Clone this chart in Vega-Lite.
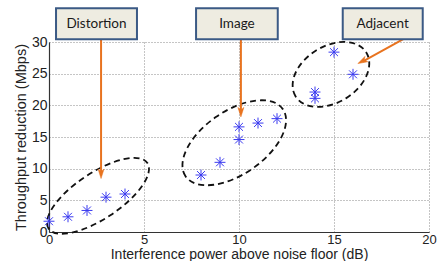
{
  "$schema": "https://vega.github.io/schema/vega-lite/v6.json",
  "autosize": "none",
  "width": 380,
  "height": 190,
  "padding": {"left": 49, "top": 42, "right": 8, "bottom": 29},
  "background": "white",
  "config": {
    "view": {"stroke": null},
    "axis": {
      "labelFont": "Liberation Sans",
      "titleFont": "Liberation Sans",
      "labelFontSize": 14,
      "titleFontSize": 14,
      "titleFontWeight": "normal",
      "labelColor": "#222222",
      "titleColor": "#222222",
      "domainColor": "#333333",
      "domainWidth": 1.2,
      "ticks": false,
      "grid": true,
      "gridColor": "#8a8a8a",
      "gridDash": [1, 2],
      "gridWidth": 1,
      "labelFlush": false
    }
  },
  "datasets": {
    "points": [
      {"x": 0, "y": 1.7},
      {"x": 1, "y": 2.4},
      {"x": 2, "y": 3.4},
      {"x": 3, "y": 5.5},
      {"x": 4, "y": 6.0},
      {"x": 8, "y": 9.0},
      {"x": 9, "y": 11.0},
      {"x": 10, "y": 14.6},
      {"x": 10, "y": 16.6},
      {"x": 11, "y": 17.2},
      {"x": 12, "y": 17.9},
      {"x": 14, "y": 21.1},
      {"x": 14, "y": 22.1},
      {"x": 15, "y": 28.4},
      {"x": 16, "y": 24.9}
    ],
    "ell1": [{"x": 2.58, "y": 5.71}],
    "ell2": [{"x": 9.75, "y": 14.09}],
    "ell3": [{"x": 14.84, "y": 24.88}],
    "boxes": [
      {"label": "Distortion", "x": 0.37, "x2": 4.63, "y": 35.34, "y2": 30.44},
      {"label": "Image", "x": 7.74, "x2": 12.04, "y": 35.34, "y2": 30.44},
      {"label": "Adjacent", "x": 15.46, "x2": 19.67, "y": 35.34, "y2": 30.44}
    ],
    "labels": [
      {"label": "Distortion", "x": 2.5, "y": 32.89},
      {"label": "Image", "x": 9.89, "y": 32.89},
      {"label": "Adjacent", "x": 17.56, "y": 32.89}
    ],
    "arrows": [
      {"x": 2.74, "y": 30.44, "x2": 2.74, "y2": 9.2},
      {"x": 10.1, "y": 30.44, "x2": 10.1, "y2": 18.9},
      {"x": 18.74, "y": 30.6, "x2": 16.5, "y2": 26.9}
    ],
    "tipsDown": [
      {"x": 2.74, "y": 8.44},
      {"x": 10.1, "y": 18.17}
    ],
    "tipAdj": [
      {"x": 16.26, "y": 26.6}
    ]
  },
  "encoding": {
    "x": {
      "field": "x",
      "type": "quantitative",
      "scale": {"domain": [0, 20], "nice": false, "zero": false},
      "axis": {
        "title": "Interference power above noise floor (dB)",
        "values": [0, 5, 10, 15, 20],
        "labelPadding": 1,
        "labelFontSize": 13,
        "titleBaseline": "alphabetic",
        "titleY": 26
      }
    },
    "y": {
      "field": "y",
      "type": "quantitative",
      "scale": {"domain": [0, 30], "nice": false, "zero": false},
      "axis": {
        "title": "Throughput reduction (Mbps)",
        "values": [0, 5, 10, 15, 20, 25, 30],
        "labelPadding": 2,
        "titleBaseline": "alphabetic",
        "titleX": -23.5,
        "titleFontSize": 14.5
      }
    }
  },
  "layer": [
    {
      "data": {"name": "ell1"},
      "mark": {
        "type": "point",
        "shape": "M-1,0A1,0.388,0,1,1,1,0A1,0.388,0,1,1,-1,0Z",
        "size": 14066,
        "angle": 326.4,
        "filled": false,
        "stroke": "#111111",
        "strokeWidth": 1.8,
        "strokeDash": [6, 4],
        "opacity": 1
      }
    },
    {
      "data": {"name": "ell2"},
      "mark": {
        "type": "point",
        "shape": "M-1,0A1,0.535,0,1,1,1,0A1,0.535,0,1,1,-1,0Z",
        "size": 13971,
        "angle": 325.3,
        "filled": false,
        "stroke": "#111111",
        "strokeWidth": 1.8,
        "strokeDash": [6, 4],
        "opacity": 1
      }
    },
    {
      "data": {"name": "ell3"},
      "mark": {
        "type": "point",
        "shape": "M-1,0A1,0.678,0,1,1,1,0A1,0.678,0,1,1,-1,0Z",
        "size": 6922,
        "angle": 328.1,
        "filled": false,
        "stroke": "#111111",
        "strokeWidth": 1.8,
        "strokeDash": [6, 4],
        "opacity": 1
      }
    },
    {
      "data": {"name": "points"},
      "mark": {
        "type": "point",
        "shape": "M-1,0L1,0M0,-1L0,1M-0.72,-0.72L0.72,0.72M-0.72,0.72L0.72,-0.72",
        "size": 120,
        "filled": false,
        "stroke": "#3a3af0",
        "strokeWidth": 1,
        "opacity": 1
      }
    },
    {
      "data": {"name": "arrows"},
      "mark": {"type": "rule", "stroke": "#e8731f", "strokeWidth": 2},
      "encoding": {
        "x2": {"field": "x2"},
        "y2": {"field": "y2"}
      }
    },
    {
      "data": {"name": "tipsDown"},
      "mark": {
        "type": "point",
        "shape": "M0,0L-0.6,-1.9L0,-1.4L0.6,-1.9Z",
        "size": 100,
        "filled": true,
        "fill": "#e8731f",
        "stroke": "#e8731f",
        "strokeWidth": 0.5,
        "opacity": 1
      }
    },
    {
      "data": {"name": "tipAdj"},
      "mark": {
        "type": "point",
        "shape": "M0,0L-0.6,-1.9L0,-1.4L0.6,-1.9Z",
        "size": 100,
        "angle": 62,
        "filled": true,
        "fill": "#e8731f",
        "stroke": "#e8731f",
        "strokeWidth": 0.5,
        "opacity": 1
      }
    },
    {
      "data": {"name": "boxes"},
      "mark": {"type": "rect", "fill": "#eeece1", "stroke": "#3b5a85", "strokeWidth": 2},
      "encoding": {
        "x2": {"field": "x2"},
        "y2": {"field": "y2"}
      }
    },
    {
      "data": {"name": "labels"},
      "mark": {"type": "text", "font": "Lato", "fontSize": 13.5, "color": "#1a1a1a", "align": "center", "baseline": "middle"},
      "encoding": {
        "text": {"field": "label"}
      }
    }
  ]
}
